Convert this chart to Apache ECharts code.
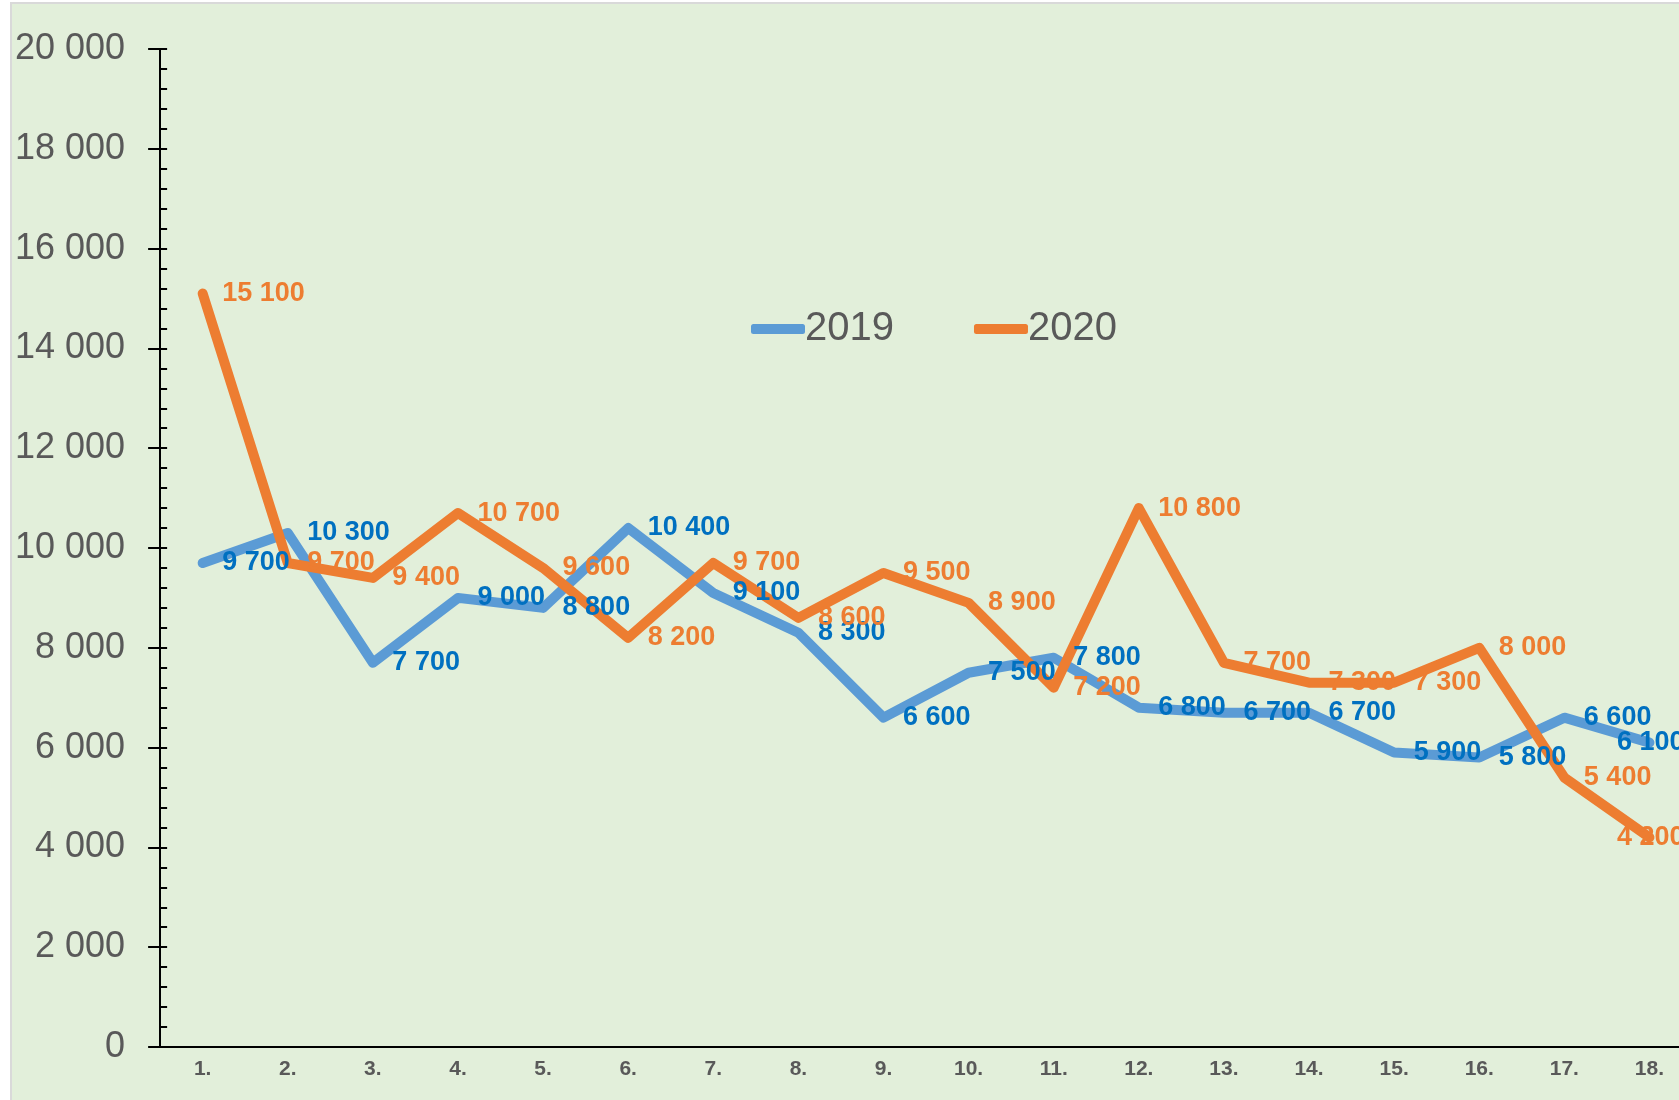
<!DOCTYPE html>
<html>
<head>
<meta charset="utf-8">
<script src="https://cdn.jsdelivr.net/npm/echarts@6/dist/echarts.min.js"></script>
<style>
  html, body { margin: 0; padding: 0; background: #ffffff; overflow: hidden; width: 1679px; height: 1100px; }
  #chart {
    position: absolute; left: 10px; top: 2px;
    width: 1700px; height: 1098px;
    box-sizing: border-box;
    background: #e2efda;
    border-left: 2px solid #d9d9d9;
    border-top: 2px solid #d9d9d9;
  }
</style>
</head>
<body>
<div id="chart"></div>
<script>
// data
var weeks = ['1.', '2.', '3.', '4.', '5.', '6.', '7.', '8.', '9.', '10.', '11.', '12.', '13.', '14.', '15.', '16.', '17.', '18.'];
var values2019 = [9700, 10300, 7700, 9000, 8800, 10400, 9100, 8300, 6600, 7500, 7800, 6800, 6700, 6700, 5900, 5800, 6600, 6100];
var values2020 = [15100, 9700, 9400, 10700, 9600, 8200, 9700, 8600, 9500, 8900, 7200, 10800, 7700, 7300, 7300, 8000, 5400, 4200];
var seriesNames = ['2019', '2020'];

var font = '"Liberation Sans", Arial, sans-serif';

function fmt(v) {
	return String(v).replace(/\B(?=(\d{3})+(?!\d))/g, ' ');
}

// last point labels sit pulled back to the left, like in the original
function toData(arr) {
	return arr.map(function (v, i) {
		if (i === arr.length - 1) {
			return { value: v, label: { offset: [-52, 0] } };
		}
		return v;
	});
}

var chart = echarts.init(document.getElementById('chart'));

function lineSeries(name, values, lineColor, labelColor) {
	return {
		name: name,
		type: 'line',
		data: toData(values),
		symbol: 'circle',
		symbolSize: 1,
		itemStyle: { color: lineColor },
		lineStyle: { color: lineColor, width: 10, cap: 'round', join: 'round' },
		label: {
			show: true,
			position: 'right',
			distance: 19,
			color: labelColor,
			fontFamily: font,
			fontSize: 27,
			fontWeight: 'bold',
			formatter: function (p) { return fmt(p.value); }
		},
		emphasis: { disabled: true },
		animation: false
	};
}

var option = {
	backgroundColor: 'transparent',
	grid: { left: 148, right: 18, top: 45, bottom: 53 },
	legend: {
		left: 734,
		top: 300,
		itemWidth: 54,
		itemHeight: 10,
		itemGap: 80,
		icon: 'roundRect',
		data: seriesNames,
		textStyle: { color: '#595959', fontFamily: font, fontSize: 40, padding: [0, 0, 0, -5] }
	},
	xAxis: {
		type: 'category',
		data: weeks,
		boundaryGap: true,
		axisLine: { lineStyle: { color: '#000000', width: 2 } },
		axisTick: { show: false },
		axisLabel: {
			color: '#595959',
			fontFamily: font,
			fontSize: 21,
			fontWeight: 'bold',
			margin: 12,
			interval: 0
		},
		splitLine: { show: false }
	},
	yAxis: [{
		type: 'value',
		min: 0,
		max: 20000,
		interval: 2000,
		axisLine: { show: true, lineStyle: { color: '#000000', width: 2 } },
		axisTick: { show: true, inside: false, length: 12, lineStyle: { color: '#000000', width: 2 } },
		axisLabel: {
			color: '#595959',
			fontFamily: font,
			fontSize: 36,
			margin: 35,
			formatter: function (v) { return fmt(v); }
		},
		splitLine: { show: false }
	}, {
		// minor ticks, drawn inside on the same place
		type: 'value',
		position: 'left',
		min: 0,
		max: 20000,
		interval: 400,
		axisLine: { show: true, lineStyle: { color: '#000000', width: 2 } },
		axisTick: { show: true, inside: true, length: 7, lineStyle: { color: '#000000', width: 2 } },
		axisLabel: { show: false },
		splitLine: { show: false }
	}],
	series: [
		lineSeries(seriesNames[0], values2019, '#5b9bd5', '#0070c0'),
		lineSeries(seriesNames[1], values2020, '#ed7d31', '#ed7d31')
	]
};

chart.setOption(option);
</script>
</body>
</html>
